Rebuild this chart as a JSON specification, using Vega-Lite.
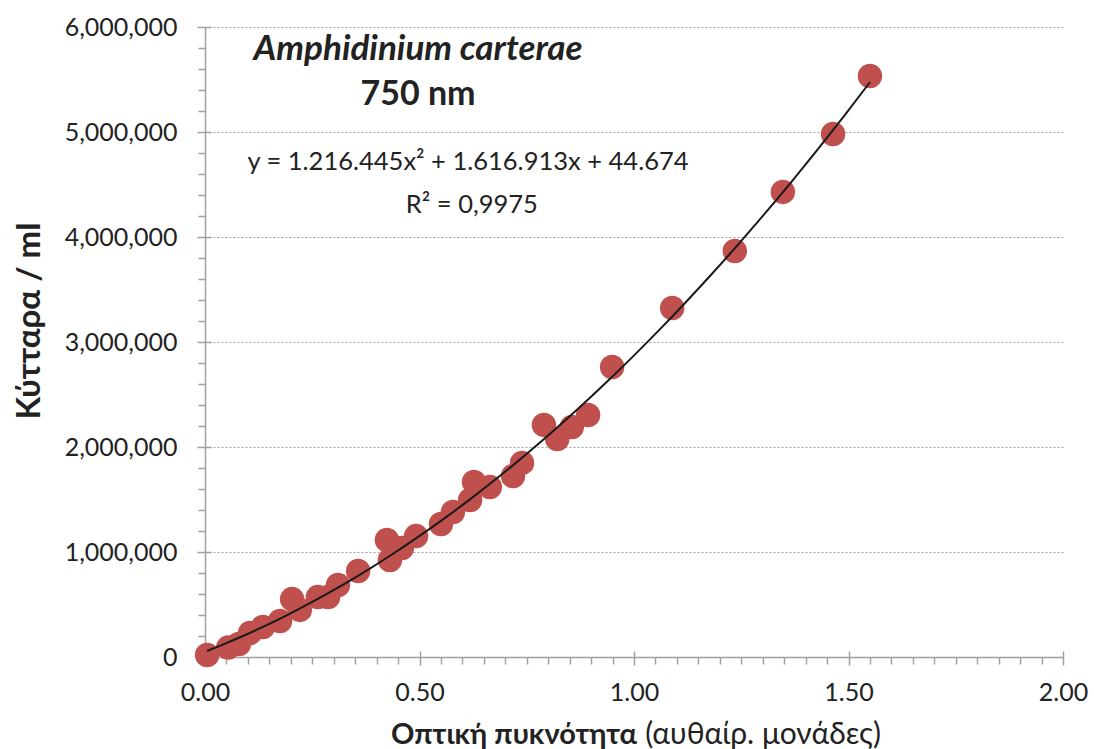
{
  "$schema": "https://vega.github.io/schema/vega-lite/v6.json",
  "width": 858,
  "height": 630,
  "autosize": "none",
  "padding": {"left": 205, "top": 27, "right": 31, "bottom": 92},
  "background": "white",
  "config": {"view": {"stroke": null}, "font": "Lato, Open Sans, sans-serif"},
  "data": {"values": [
    {"od": 0.005, "cells": 19000},
    {"od": 0.054, "cells": 90000},
    {"od": 0.079, "cells": 124000},
    {"od": 0.105, "cells": 229000},
    {"od": 0.135, "cells": 286000},
    {"od": 0.175, "cells": 343000},
    {"od": 0.203, "cells": 552000},
    {"od": 0.221, "cells": 448000},
    {"od": 0.263, "cells": 571000},
    {"od": 0.287, "cells": 571000},
    {"od": 0.31, "cells": 686000},
    {"od": 0.357, "cells": 819000},
    {"od": 0.424, "cells": 1114000},
    {"od": 0.431, "cells": 924000},
    {"od": 0.459, "cells": 1038000},
    {"od": 0.492, "cells": 1152000},
    {"od": 0.55, "cells": 1267000},
    {"od": 0.578, "cells": 1381000},
    {"od": 0.618, "cells": 1495000},
    {"od": 0.627, "cells": 1667000},
    {"od": 0.664, "cells": 1619000},
    {"od": 0.718, "cells": 1724000},
    {"od": 0.739, "cells": 1848000},
    {"od": 0.79, "cells": 2210000},
    {"od": 0.821, "cells": 2076000},
    {"od": 0.855, "cells": 2190000},
    {"od": 0.893, "cells": 2305000},
    {"od": 0.949, "cells": 2762000},
    {"od": 1.089, "cells": 3324000},
    {"od": 1.235, "cells": 3867000},
    {"od": 1.347, "cells": 4429000},
    {"od": 1.464, "cells": 4981000},
    {"od": 1.55, "cells": 5533000}
  ]},
  "resolve": {"axis": {"x": "independent", "y": "independent"}},
  "layer": [
    {
      "mark": {"type": "circle", "size": 600, "opacity": 1, "color": "#C0504D"},
      "encoding": {
        "x": {"field": "od", "type": "quantitative",
          "scale": {"domain": [0, 2], "nice": false, "zero": true},
          "axis": {"orient": "bottom", "title": null, "values": [0, 0.5, 1, 1.5, 2], "format": ".2f",
            "labelFontSize": 25, "labelFontWeight": "normal", "labelColor": "#222222", "labelPadding": 15, "labelFlush": false,
            "tickSize": 8, "tickColor": "#A0A0A0", "tickWidth": 1.5, "domainColor": "#A0A0A0", "domainWidth": 1.5, "grid": false}},
        "y": {"field": "cells", "type": "quantitative",
          "scale": {"domain": [0, 6000000], "nice": false, "zero": true},
          "axis": {"orient": "left", "title": null, "values": [0, 1000000, 2000000, 3000000, 4000000, 5000000, 6000000], "format": ",d",
            "labelFontSize": 25, "labelFontWeight": "normal", "labelColor": "#222222", "labelPadding": 20, "labelFlush": false,
            "tickSize": 8, "tickColor": "#A0A0A0", "tickWidth": 1.5, "domainColor": "#A0A0A0", "domainWidth": 1.5,
            "grid": true, "gridColor": "#A0A0A0", "gridDash": [2, 2], "gridWidth": 1}}
      }
    },
    {
      "transform": [{"regression": "cells", "on": "od", "method": "poly", "order": 2, "extent": [0.005, 1.55]}],
      "mark": {"type": "line", "color": "#1a1a1a", "strokeWidth": 2, "interpolate": "monotone"},
      "encoding": {
        "x": {"field": "od", "type": "quantitative",
          "axis": {"orient": "bottom", "title": null, "labels": false, "domain": false, "grid": false,
            "values": [0.05,0.1,0.15,0.2,0.25,0.3,0.35,0.4,0.45,0.55,0.6,0.65,0.7,0.75,0.8,0.85,0.9,0.95,1.05,1.1,1.15,1.2,1.25,1.3,1.35,1.4,1.45,1.55,1.6,1.65,1.7,1.75,1.8,1.85,1.9,1.95],
            "tickSize": 7, "tickColor": "#A0A0A0", "tickWidth": 1.5}},
        "y": {"field": "cells", "type": "quantitative",
          "axis": {"orient": "left", "title": null, "labels": false, "domain": false, "grid": false,
            "values": [200000,400000,600000,800000,1200000,1400000,1600000,1800000,2200000,2400000,2600000,2800000,3200000,3400000,3600000,3800000,4200000,4400000,4600000,4800000,5200000,5400000,5600000,5800000],
            "tickSize": 7, "tickColor": "#A0A0A0", "tickWidth": 1.5}}
      }
    },
    {
      "data": {"values": [{"label": "Amphidinium carterae", "x": 0.4965, "y": 5686000}]},
      "mark": {"type": "text", "fontSize": 35, "fontWeight": "bold", "fontStyle": "italic", "color": "#222222", "align": "center", "baseline": "alphabetic"},
      "encoding": {
        "text": {"field": "label"},
        "x": {"field": "x", "type": "quantitative",
          "axis": {"orient": "bottom", "title": null, "labels": false, "domain": false, "grid": false,
            "values": [0, 0.5, 1, 1.5, 2], "tickSize": -6, "tickColor": "#A0A0A0", "tickWidth": 1.5}},
        "y": {"field": "y", "type": "quantitative",
          "axis": {"orient": "left", "title": null, "labels": false, "domain": false, "grid": false,
            "values": [0, 1000000, 2000000, 3000000, 4000000, 5000000, 6000000], "tickSize": -6, "tickColor": "#A0A0A0", "tickWidth": 1.5}}
      }
    },
    {
      "data": {"values": [{"label": "750 nm", "x": 0.4965, "y": 5257000}]},
      "mark": {"type": "text", "fontSize": 34, "fontWeight": "bold", "color": "#222222", "align": "center", "baseline": "alphabetic"},
      "encoding": {
        "text": {"field": "label"},
        "x": {"field": "x", "type": "quantitative", "axis": null},
        "y": {"field": "y", "type": "quantitative", "axis": null}
      }
    },
    {
      "data": {"values": [
        {"label": "y = 1.216.445x² + 1.616.913x + 44.674", "x": 0.613, "y": 4638000},
        {"label": "R² = 0,9975", "x": 0.622, "y": 4229000}
      ]},
      "mark": {"type": "text", "fontSize": 25.5, "fontWeight": "normal", "color": "#222222", "align": "center", "baseline": "alphabetic"},
      "encoding": {
        "text": {"field": "label"},
        "x": {"field": "x", "type": "quantitative", "axis": null},
        "y": {"field": "y", "type": "quantitative", "axis": null}
      }
    },
    {
      "data": {"values": [{"label": "Κύτταρα / ml", "x": -0.408, "y": 3200000}]},
      "mark": {"type": "text", "fontSize": 33, "fontWeight": "bold", "color": "#222222", "align": "center", "baseline": "middle", "angle": 270},
      "encoding": {
        "text": {"field": "label"},
        "x": {"field": "x", "type": "quantitative", "axis": null},
        "y": {"field": "y", "type": "quantitative", "axis": null}
      }
    },
    {
      "data": {"values": [{"label": "Οπτική πυκνότητα", "x": 1.007, "y": -829000}]},
      "mark": {"type": "text", "fontSize": 29, "fontWeight": "bold", "color": "#222222", "align": "right", "baseline": "alphabetic"},
      "encoding": {
        "text": {"field": "label"},
        "x": {"field": "x", "type": "quantitative", "axis": null},
        "y": {"field": "y", "type": "quantitative", "axis": null}
      }
    },
    {
      "data": {"values": [{"label": "(αυθαίρ. μονάδες)", "x": 1.026, "y": -829000}]},
      "mark": {"type": "text", "fontSize": 30, "fontWeight": "normal", "color": "#222222", "align": "left", "baseline": "alphabetic"},
      "encoding": {
        "text": {"field": "label"},
        "x": {"field": "x", "type": "quantitative", "axis": null},
        "y": {"field": "y", "type": "quantitative", "axis": null}
      }
    }
  ]
}
